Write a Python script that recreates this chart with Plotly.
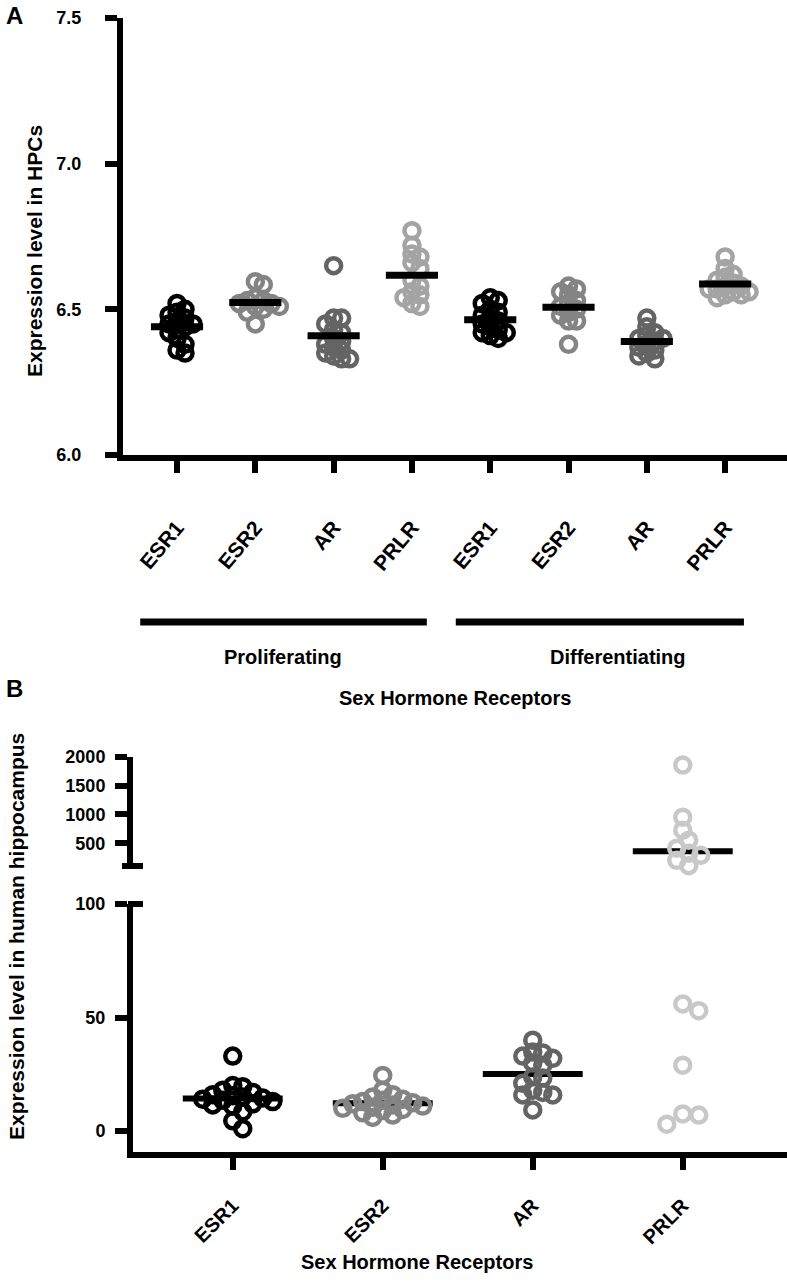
import numpy as np
import plotly.graph_objects as go

W, H = 787, 1282

# ---------------- Panel A data (expression level in HPCs) ----------------
a_tick_labels = ["ESR1", "ESR2", "AR", "PRLR", "ESR1", "ESR2", "AR", "PRLR"]
a_group_labels = ["Proliferating", "Differentiating"]
a_prolif_esr1 = [6.52, 6.50, 6.49, 6.48, 6.47, 6.46, 6.45, 6.45, 6.44, 6.43, 6.42, 6.40, 6.38, 6.36, 6.35]
a_prolif_esr2 = [6.595, 6.585, 6.54, 6.53, 6.53, 6.52, 6.52, 6.51, 6.51, 6.50, 6.49, 6.45]
a_prolif_ar = [6.65, 6.47, 6.47, 6.45, 6.43, 6.42, 6.40, 6.39, 6.38, 6.37, 6.36, 6.35, 6.34, 6.33, 6.33]
a_prolif_prlr = [6.77, 6.72, 6.69, 6.68, 6.66, 6.64, 6.60, 6.58, 6.56, 6.55, 6.54, 6.52, 6.51]
a_diff_esr1 = [6.54, 6.53, 6.52, 6.50, 6.49, 6.48, 6.47, 6.46, 6.45, 6.44, 6.43, 6.42, 6.42, 6.41, 6.40]
a_diff_esr2 = [6.58, 6.57, 6.56, 6.55, 6.53, 6.52, 6.51, 6.50, 6.49, 6.48, 6.46, 6.46, 6.38]
a_diff_ar = [6.47, 6.44, 6.42, 6.41, 6.40, 6.40, 6.39, 6.38, 6.37, 6.36, 6.35, 6.34, 6.33]
a_diff_prlr = [6.68, 6.64, 6.62, 6.61, 6.60, 6.59, 6.58, 6.58, 6.57, 6.57, 6.56, 6.56, 6.55, 6.55, 6.54]
a_yticks = [6.0, 6.5, 7.0, 7.5]

# ---------------- Panel B data (expression in human hippocampus) ----------------
b_tick_labels = ["ESR1", "ESR2", "AR", "PRLR"]
b_esr1 = [33, 20, 19.5, 18, 17, 16, 15.5, 15, 14.5, 14, 13.5, 13, 12, 11.5, 11, 8.5, 4.5, 1]
b_esr2 = [24.5, 18, 16, 15, 14, 13.5, 13, 12.5, 12, 11.5, 11, 10.5, 10, 9.5, 9, 8, 7, 6]
b_ar = [40, 34.8, 34.4, 33, 32, 30, 29, 23.8, 23.3, 21, 18, 17, 15.9, 15.9, 9.3]
b_prlr = [1860, 953, 727, 552, 413, 326, 291, 203, 110, 56, 53, 29, 7.5, 7, 3]
b_prlr_center = 360
b_lower_ticks = [0, 50, 100]
b_upper_ticks = [500, 1000, 1500, 2000]

# ---------------- style ----------------
FONT = "Liberation Sans, Arial, sans-serif"
a_colors = ["#000000", "#848484", "#646464", "#a4a4a4"] * 2
b_colors = ["#000000", "#848484", "#646464", "#c8c8c8"]


def fx(px):
    return px / W


def fy(py):
    return 1 - py / H


def swarm(vals, px_per_unit, diam, step):
    vals = np.asarray(vals, dtype=float)
    order = np.argsort(-vals)
    placed = []
    offs = np.zeros(len(vals))
    for idx in order:
        y = vals[idx] * px_per_unit
        k = 0
        done = False
        while not done:
            cands = [0.0] if k == 0 else [k * step, -k * step]
            for c in cands:
                if all((c - px) ** 2 + (y - py) ** 2 >= diam ** 2 for px, py in placed):
                    offs[idx] = c
                    placed.append((c, y))
                    done = True
                    break
            k += 1
    return offs


def marker_style(c):
    return dict(symbol="circle-open", size=15, color=c, line=dict(width=4.5, color=c))


fig = go.Figure()

# ---- Panel A (mean bars drawn over the points) ----
A_PX_Y = 437 / 1.5
A_PX_X = 78.3
a_series = [a_prolif_esr1, a_prolif_esr2, a_prolif_ar, a_prolif_prlr,
            a_diff_esr1, a_diff_esr2, a_diff_ar, a_diff_prlr]
for i, vals in enumerate(a_series):
    offs = swarm(vals, A_PX_Y, 8.0, 4.0) / A_PX_X
    fig.add_trace(go.Scatter(
        x=i + offs, y=vals, mode="markers", xaxis="x", yaxis="y",
        marker=marker_style(a_colors[i]),
        cliponaxis=False, showlegend=False, hoverinfo="y"))
for i, vals in enumerate(a_series):
    m = float(np.mean(vals))
    fig.add_trace(go.Scatter(
        x=[i - 0.333, i + 0.333], y=[m, m], mode="lines", xaxis="x", yaxis="y",
        line=dict(color="black", width=7), showlegend=False, hoverinfo="skip"))

# ---- Panel B (mean bars drawn under the points) ----
B_PX_X = 150.0
B_PX_LOW = 227 / 100
B_PX_UP = 86 / 1500
b_series = [b_esr1, b_esr2, b_ar]
for i, vals in enumerate(b_series):
    m = float(np.mean(vals))
    fig.add_trace(go.Scatter(
        x=[i - 0.333, i + 0.333], y=[m, m], mode="lines", xaxis="x2", yaxis="y2",
        line=dict(color="black", width=6), showlegend=False, hoverinfo="skip"))
fig.add_trace(go.Scatter(
    x=[3 - 0.333, 3 + 0.333], y=[b_prlr_center] * 2, mode="lines", xaxis="x2", yaxis="y3",
    line=dict(color="black", width=6), showlegend=False, hoverinfo="skip"))

for i, vals in enumerate(b_series):
    offs = swarm(vals, B_PX_LOW, 9.5, 5.0) / B_PX_X
    fig.add_trace(go.Scatter(
        x=i + offs, y=vals, mode="markers", xaxis="x2", yaxis="y2",
        marker=marker_style(b_colors[i]),
        cliponaxis=False, showlegend=False, hoverinfo="y"))
prlr_low = [v for v in b_prlr if v <= 100]
prlr_up = [v for v in b_prlr if v > 100]
offs_low = swarm(prlr_low, B_PX_LOW, 16.0, 8.0) / B_PX_X
offs_up = swarm(prlr_up, B_PX_UP, 11.0, 6.0) / B_PX_X
fig.add_trace(go.Scatter(
    x=3 + offs_low, y=prlr_low, mode="markers", xaxis="x2", yaxis="y2",
    marker=marker_style(b_colors[3]),
    cliponaxis=False, showlegend=False, hoverinfo="y"))
fig.add_trace(go.Scatter(
    x=3 + offs_up, y=prlr_up, mode="markers", xaxis="x2", yaxis="y3",
    marker=marker_style(b_colors[3]),
    cliponaxis=False, showlegend=False, hoverinfo="y"))

axis_common = dict(showline=True, linecolor="black", linewidth=6, showgrid=False,
                   zeroline=False, ticks="outside", ticklen=12, tickwidth=6,
                   tickcolor="black", fixedrange=True, automargin=False)
tickfont = dict(family=FONT, size=18, color="black", weight="bold")
xtickfont = dict(family=FONT, size=21, color="black", weight="bold")

fig.update_layout(
    width=W, height=H, margin=dict(l=0, r=0, t=0, b=0, autoexpand=False),
    paper_bgcolor="white", plot_bgcolor="white", showlegend=False,
    xaxis=dict(domain=[fx(123), 1], range=[-0.69, 7.79], anchor="y",
               tickvals=list(range(8)), ticktext=a_tick_labels, tickangle=-50,
               tickfont=xtickfont, ticklabelstandoff=34, **axis_common),
    yaxis=dict(domain=[fy(455), fy(18)], range=[6.0, 7.5], anchor="x",
               tickvals=a_yticks, tickformat=".1f", tickfont=tickfont,
               ticklabelstandoff=20, **axis_common),
    xaxis2=dict(domain=[fx(133), 1], range=[-0.665, 3.695], anchor="y2",
                tickvals=list(range(4)), ticktext=b_tick_labels, tickangle=-45,
                tickfont=dict(xtickfont, size=20), ticklabelstandoff=16, **axis_common),
    yaxis2=dict(domain=[fy(1152), fy(904)], range=[-9.25, 100], anchor="x2",
                tickvals=b_lower_ticks, tickfont=tickfont,
                ticklabelstandoff=6, **axis_common),
    yaxis3=dict(domain=[fy(866), fy(757)], range=[104, 2000], anchor="x2",
                tickvals=b_upper_ticks, tickfont=tickfont,
                ticklabelstandoff=6, **axis_common),
)

# group bars under panel A
fig.add_shape(type="line", xref="x", yref="paper", x0=-0.47, x1=3.19,
              y0=fy(622), y1=fy(622), line=dict(color="black", width=7))
fig.add_shape(type="line", xref="x", yref="paper", x0=3.56, x1=7.24,
              y0=fy(622), y1=fy(622), line=dict(color="black", width=7))
# broken-axis caps in panel B
fig.add_shape(type="line", xref="paper", yref="paper", x0=fx(122), x1=fx(143),
              y0=fy(866), y1=fy(866), line=dict(color="black", width=6))
fig.add_shape(type="line", xref="paper", yref="paper", x0=fx(128), x1=fx(143),
              y0=fy(904), y1=fy(904), line=dict(color="black", width=6))


def label(text, px, py, size, angle=0, xanchor="center"):
    fig.add_annotation(text=text, x=fx(px), y=fy(py), xref="paper", yref="paper",
                       showarrow=False, textangle=angle, xanchor=xanchor, yanchor="middle",
                       font=dict(family=FONT, size=size, color="black", weight="bold"))


label("A", 14, 16, 24)
label("B", 14, 689, 24)
label("Proliferating", 283, 657, 20)
label("Differentiating", 618, 657, 20)
label("Sex Hormone Receptors", 455, 698, 20)
label("Sex Hormone Receptors", 417, 1262, 20)
label("Expression level in HPCs", 35, 251, 21, angle=-90)
label("Expression level in human hippocampus", 16, 937, 21, angle=-90)

fig.write_html("out.html", config={"displayModeBar": False},
               post_script="document.body.style.margin='0';document.body.style.overflow='hidden';")
